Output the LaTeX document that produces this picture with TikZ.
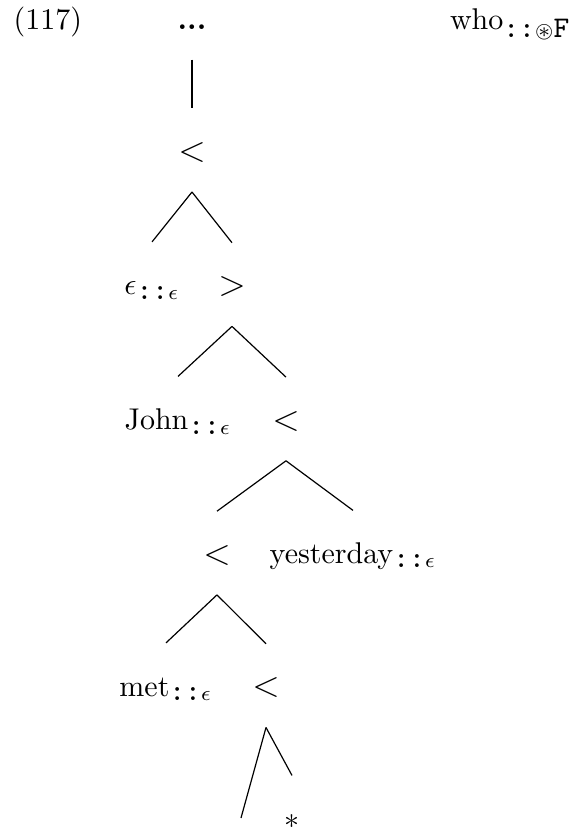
\documentclass[tikz,border=0pt]{standalone}
\usepackage{amssymb}
\usetikzlibrary{positioning}
\tikzset{
  tnode/.style={inner sep=0pt, anchor=base, text height=17.5pt, text depth=10pt},
  plain/.style={inner sep=0pt, anchor=base},
  branch/.style={line width=0.4pt, draw=black},
}
\newcommand{\lsym}{\large$<$}
\newcommand{\gsym}{\large$>$}
\begin{document}
\begin{tikzpicture}[x=1pt, y=1pt]
    \useasboundingbox (0,0) rectangle (191.33,-276.67);
    \node[plain, anchor=base west] (exnum) at (4.33,-9.67) {(117)};
    \node[plain, anchor=base east] (who) at (190.5,-9.67) {who$_{\texttt{::}\circledast\texttt{F}}$};
    \node[tnode] (dots) at (64,-9.67) {\textbf{...}};
    \node[tnode] (lt1) at (64,-53.8) {\lsym};
    \node[tnode] (eps) at (50.67,-98.33) {$\epsilon_{\texttt{::}\epsilon}$};
    \node[tnode] (gt1) at (77.33,-98.6) {\gsym};
    \node[tnode] (john) at (59.33,-143.17) {John$_{\texttt{::}\epsilon}$};
    \node[tnode] (lt2) at (95.33,-143.4) {\lsym};
    \node[tnode] (lt3) at (72.33,-188.1) {\lsym};
    \node[tnode] (yest) at (117.67,-187.83) {yesterday$_{\texttt{::}\epsilon}$};
    \node[tnode] (met) at (55.33,-232) {met$_{\texttt{::}\epsilon}$};
    \node[tnode] (lt4) at (88.67,-232.3) {\lsym};
    \coordinate (gap) at (80.33,-272.67);
    \node[tnode] (star) at (97.33,-276.17) {$*$};
    \draw[branch] (dots.south) -- (lt1.north);
    \draw[branch] (lt1.south) -- (eps.north);\draw[branch] (lt1.south) -- (gt1.north);
    \draw[branch] (gt1.south) -- (john.north);\draw[branch] (gt1.south) -- (lt2.north);
    \draw[branch] (lt2.south) -- (lt3.north);\draw[branch] (lt2.south) -- (yest.north);
    \draw[branch] (lt3.south) -- (met.north);\draw[branch] (lt3.south) -- (lt4.north);
    \draw[branch] (lt4.south) -- (gap);\draw[branch] (lt4.south) -- (star.north);
  \end{tikzpicture}
\end{document}
